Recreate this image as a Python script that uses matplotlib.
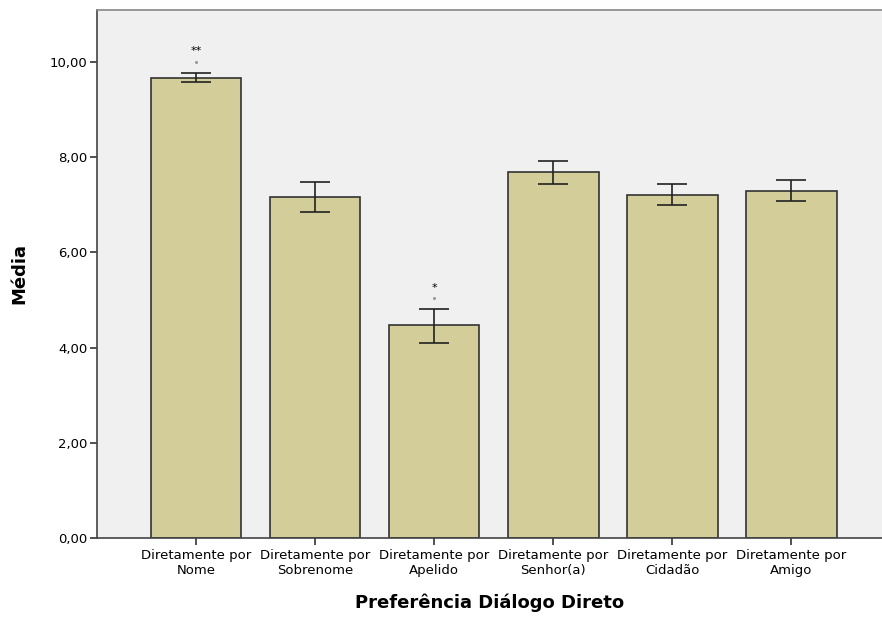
import matplotlib.pyplot as plt
import numpy as np

plt.rcParams['font.family'] = ['DejaVu Sans']

# categorias e medias
categorias = ["Diretamente por\nNome", "Diretamente por\nSobrenome", "Diretamente por\nApelido",
              "Diretamente por\nSenhor(a)", "Diretamente por\nCidadão", "Diretamente por\nAmigo"]
medias = [9.66, 7.16, 4.47, 7.69, 7.21, 7.29]
erro_inf = [9.58, 6.85, 4.10, 7.44, 7.00, 7.08]
erro_sup = [9.77, 7.48, 4.81, 7.92, 7.44, 7.52]
marcas = ["**", "", "*", "", "", ""]

x = np.arange(len(categorias))
medias = np.array(medias)
yerr = np.array([medias - np.array(erro_inf), np.array(erro_sup) - medias])

fig = plt.figure(figsize=(8.82, 6.17), dpi=100)
ax = fig.add_axes([0.110, 0.128, 0.890, 0.856])
ax.set_facecolor('#f0f0f0')

ax.bar(x, medias, width=0.76, color='#d3ce99', edgecolor='#333333', linewidth=1.2, zorder=2)
ax.errorbar(x, medias, yerr=yerr, fmt='none', ecolor='#222222', elinewidth=1.2,
            capsize=10.5, capthick=1.2, zorder=3)

# asteriscos de significancia
for xi, m, top in zip(x, marcas, erro_sup):
    if m:
        ax.text(xi, top + 0.45, m, ha='center', va='center', fontsize=8)
        ax.plot(xi, top + 0.22, marker='o', markersize=1.2, color='#999999', zorder=3)

ax.set_xlim(-0.83, 5.76)
ax.set_ylim(0, 11.09)
ax.set_yticks([0, 2, 4, 6, 8, 10])
ax.set_yticklabels(["0,00", "2,00", "4,00", "6,00", "8,00", "10,00"], fontsize=9.5)
ax.set_xticks(x)
ax.set_xticklabels(categorias, fontsize=9.5, linespacing=1.15)
ax.tick_params(axis='both', length=5, width=1.2, color='#333333')
ax.tick_params(axis='x', pad=3)
ax.tick_params(axis='y', pad=2)

for s in ['left', 'bottom', 'top']:
    ax.spines[s].set_linewidth(1.2)
    ax.spines[s].set_color('#444444')
ax.spines['top'].set_color('#888888')
ax.spines['right'].set_visible(False)

ax.set_ylabel("Média", fontsize=13, fontweight='bold', labelpad=15)
ax.set_xlabel("Preferência Diálogo Direto", fontsize=13, fontweight='bold', labelpad=12)

fig.savefig("out.png", dpi=100)
